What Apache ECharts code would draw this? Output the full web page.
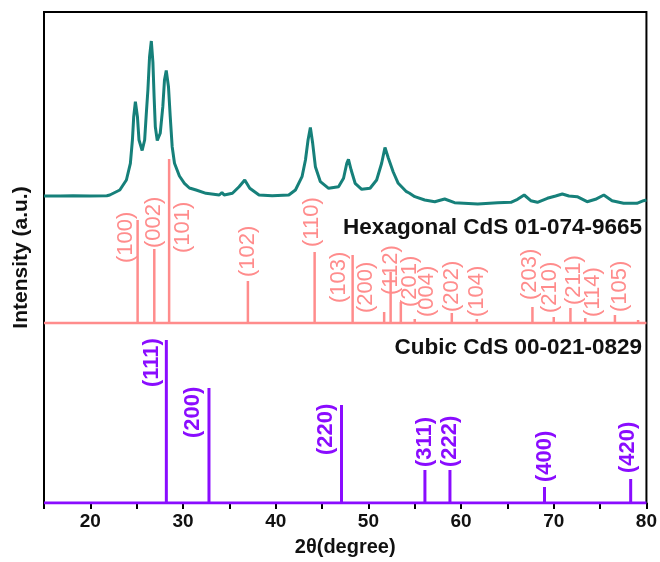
<!DOCTYPE html>
<html>
<head>
<meta charset="utf-8">
<script src="https://cdn.jsdelivr.net/npm/echarts@6/dist/echarts.min.js"></script>
<style>html,body{margin:0;padding:0;background:#fff}#chart{width:660px;height:562px}</style>
</head>
<body>
<div id="chart"></div>
<script>
// ---- data (2θ in degrees, intensities in arbitrary units) ----
const xrdTheta = [15.00,16.74,18.13,19.96,21.78,22.10,23.18,23.89,24.32,24.54,24.68,24.86,25.08,25.25,25.59,25.86,26.04,26.21,26.39,26.58,26.75,26.88,27.01,27.22,27.54,27.82,28.00,28.19,28.43,28.62,28.83,29.08,29.61,30.15,30.69,31.41,32.48,33.91,34.20,34.44,35.33,36.05,36.66,37.20,38.20,39.62,41.41,42.13,42.84,43.21,43.49,43.74,43.99,44.28,44.82,45.71,46.78,47.32,47.67,47.85,48.14,48.57,49.28,50.18,50.89,51.43,51.79,52.15,52.68,53.22,54.11,54.40,55.01,56.08,57.16,58.23,59.30,61.80,63.95,65.38,66.09,66.81,67.52,68.24,69.31,70.20,70.92,71.64,72.53,73.60,74.50,75.40,76.29,77.54,78.97,79.69,80.00];
const xrdIntensity = [8,8,8.3,8,8.3,9,14,24,40.7,64,87.3,102.3,87.3,64,53.5,64,90.7,114,147.3,163,142,107.3,77.3,63.5,70.7,97.3,124,133.5,117.3,87.3,57.3,40.7,28,20.7,16,14,10.7,9,11.5,9,10.7,17.3,24,15.7,9,8.3,9,14,27.3,44,64,76.5,60.7,37.3,22.3,15.7,17.3,25.7,40.7,44.7,34,20.7,14.7,15.7,24,40.7,56.5,46,32,20.7,12.3,11,7.3,4,2.3,5,1.3,0,1.3,1.7,4.7,9,3.3,1.7,5.7,8,10,8,7.3,2.3,4.7,9,3.3,0.7,0.7,3.3,4];

const hexLabels = ['(100)','(002)','(101)','(102)','(110)','(103)','(200)','(112)','(201)','(004)','(202)','(104)','(203)','(210)','(211)','(114)','(105)',''];
const hexTheta = [25.1,26.9,28.5,37.0,44.2,48.3,51.7,52.4,53.5,55.0,59.0,61.7,67.7,70.0,71.8,73.4,76.6,79.1];
const hexIntensity = [103,74,164,42,71,68,11,51,21,4,10,4,16,6,15,5,8,3];

const cubLabels = ['(111)','(200)','(220)','(311)','(222)','(400)','(420)'];
const cubTheta = [28.2,32.8,47.1,56.1,58.8,69.0,78.3];
const cubIntensity = [163,115,98,33,33,16,24];

const xTicks = [20,30,40,50,60,70,80];

// vertical offsets of the stacked patterns (a.u.)
const xrdOffset = 299, hexOffset = 180, cubOffset = 0;

// ---- styles ----
const teal = '#16807a', pink = '#ff8c8c', purple = '#8a0cff';
const FONT = '"Liberation Sans", Arial, sans-serif';
// label offsets (px) relative to the stick top: [dx, dy]
const hexLabelShift = [[-12,43],[0,-1],[14,94],[0,-4],[-3,-5],[-14,48],[-18,1],[0,23],[9,5],[12,-2],[0,-1],[0,-2],[-2,-7],[-4,-4],[4,-3],[8,-1],[5,-3],[0,0]];
const cubLabelShift = [[-14.5,47],[-16.5,50],[-16,50],[0,-3],[0,-3],[0,-5],[-3,-6]];

const chart = echarts.init(document.getElementById('chart'), null, {renderer:'canvas'});

function stickSeries(name, theta, inten, labels, base, color, lw, font, shifts){
  return {
    type:'custom', name, clip:false, z:5,
    data: theta.map((t,i)=>[t, inten[i], i]),
    renderItem(params, api){
      const i = api.value(2);
      const p0 = api.coord([api.value(0), base]);
      const p1 = api.coord([api.value(0), base + api.value(1)]);
      const sh = shifts[i];
      return {type:'group', children:[
        {type:'line', shape:{x1:p0[0],y1:p0[1],x2:p1[0],y2:p1[1]}, style:{stroke:color, lineWidth:lw}},
        {type:'text', x:p1[0]+sh[0], y:p1[1]+sh[1], rotation:Math.PI/2,
          style:{text:labels[i], fill:color, font:font, align:'left', verticalAlign:'middle'}}
      ]};
    }
  };
}

const option = {
  animation:false,
  backgroundColor:'#fff',
  grid:{left:44, right:10, top:12, bottom:59, show:true, borderColor:'#000', borderWidth:2, backgroundColor:'transparent'},
  xAxis:{
    type:'value', min:15, max:80, interval:5,
    name:'2θ(degree)', nameLocation:'middle', nameGap:34,
    nameTextStyle:{fontFamily:FONT, fontWeight:'bold', fontSize:20, color:'#111'},
    axisLine:{show:true, lineStyle:{color:'#000', width:2}},
    axisTick:{show:true, length:6, lineStyle:{color:'#000', width:2}},
    axisLabel:{fontFamily:FONT, fontWeight:'bold', fontSize:19, color:'#111', margin:9,
      formatter:v=> xTicks.indexOf(v)>=0 ? String(v) : ''},
    splitLine:{show:false}
  },
  yAxis:{
    type:'value', min:0, max:491,
    name:'Intensity (a.u.)', nameLocation:'middle', nameGap:12,
    nameTextStyle:{fontFamily:FONT, fontWeight:'bold', fontSize:21, color:'#111'},
    axisLine:{show:true, lineStyle:{color:'#000', width:2}},
    axisTick:{show:false}, axisLabel:{show:false}, splitLine:{show:false}
  },
  graphic:[
    {type:'text', right:18, top:216, z:10, style:{text:'Hexagonal CdS 01-074-9665', fill:'#111', font:'bold 22.5px '+FONT}},
    {type:'text', right:18, top:336, z:10, style:{text:'Cubic CdS 00-021-0829', fill:'#111', font:'bold 22.5px '+FONT}}
  ],
  series:[
    {type:'line', name:'XRD', symbol:'none', z:4, lineStyle:{color:teal, width:3},
      data: xrdTheta.map((t,i)=>[t, xrdOffset + xrdIntensity[i]])},
    {type:'line', name:'hexBase', symbol:'none', z:4, lineStyle:{color:pink, width:2.5},
      data:[[15,hexOffset],[80,hexOffset]]},
    {type:'line', name:'cubBase', symbol:'none', z:6, lineStyle:{color:purple, width:3},
      data:[[15,cubOffset],[80,cubOffset]]},
    stickSeries('hex', hexTheta, hexIntensity, hexLabels, hexOffset, pink, 2.5, 'normal 22px '+FONT, hexLabelShift),
    stickSeries('cub', cubTheta, cubIntensity, cubLabels, cubOffset, purple, 3, 'bold 22px '+FONT, cubLabelShift)
  ]
};
chart.setOption(option);
</script>
</body>
</html>
